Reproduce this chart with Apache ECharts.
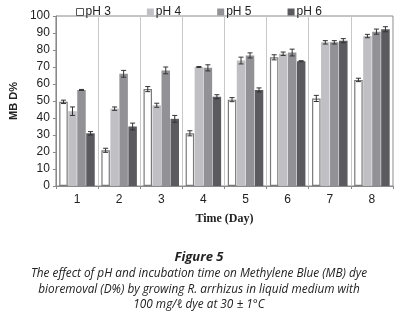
<!DOCTYPE html>
<html>
<head>
<meta charset="utf-8">
<script src="https://cdn.jsdelivr.net/npm/echarts@6/dist/echarts.min.js"></script>
<style>
  html, body { margin: 0; padding: 0; background: #fff; }
  #chart { width: 398px; height: 312px; }
</style>
</head>
<body>
<div id="chart"></div>
<script>
// categories (days)
const days = ['1', '2', '3', '4', '5', '6', '7', '8'];
const seriesNames = ['pH 3', 'pH 4', 'pH 5', 'pH 6'];

// D% values
const ph3 = [49.5, 21, 57, 31, 50.8, 75.7, 51.5, 62.4];
const ph4 = [44, 45.5, 47.5, 70, 73.8, 77.8, 84.5, 88.2];
const ph5 = [56.5, 66, 68, 69.5, 76.8, 78.5, 84.5, 90.8];
const ph6 = [31, 35, 39.5, 52.5, 56.5, 73.4, 85.5, 92.2];

// error bar half-widths
const ph3Err = [1, 1.2, 1.5, 1.5, 1.2, 1.5, 1.8, 1];
const ph4Err = [2.5, 1, 1.2, 0.3, 2, 1, 1, 1];
const ph5Err = [0.3, 2, 2, 1.8, 1.5, 2, 1, 1.5];
const ph6Err = [1, 2, 2, 1.2, 1.2, 0.3, 1.2, 1.5];

const values = [ph3, ph4, ph5, ph6];
const errors = [ph3Err, ph4Err, ph5Err, ph6Err];
const colors = ['#ffffff', '#c0c0c4', '#929296', '#5b5a5f'];

const barW = 8.5;
const gapPx = 0.5;

const captionFont = 'italic 11.8px "Open Sans"';

const myChart = echarts.init(document.getElementById('chart'));

const barSeries = seriesNames.map((name, i) => ({
    name: name,
    type: 'bar',
    data: values[i],
    barWidth: barW,
    barGap: (gapPx / barW * 100) + '%',
    itemStyle: {
        color: colors[i],
        borderColor: i === 0 ? '#7a7a7a' : colors[i],
        borderWidth: i === 0 ? 1.2 : 0
    },
    animation: false
}));

// error bars drawn with a custom series per ph
const errSeries = seriesNames.map((name, i) => ({
    type: 'custom',
    name: name + ' err',
    data: values[i].map((v, k) => [k, v, errors[i][k]]),
    z: 5,
    silent: true,
    animation: false,
    renderItem: function (params, api) {
        const k = api.value(0);
        const v = api.value(1);
        const e = api.value(2);
        const offset = (i - 1.5) * (barW + gapPx);
        const top = api.coord([k, v + e]);
        const bot = api.coord([k, v - e]);
        const x = top[0] + offset;
        const style = { stroke: '#333', lineWidth: 1 };
        return {
            type: 'group',
            children: [
                { type: 'line', shape: { x1: x, y1: top[1], x2: x, y2: bot[1] }, style: style },
                { type: 'line', shape: { x1: x - 2.5, y1: top[1], x2: x + 2.5, y2: top[1] }, style: style },
                { type: 'line', shape: { x1: x - 2.5, y1: bot[1], x2: x + 2.5, y2: bot[1] }, style: style }
            ]
        };
    }
}));

const option = {
    backgroundColor: '#fff',
    graphic: [
        { type: 'text', x: 199, y: 251, style: { text: 'Figure 5', textAlign: 'center', font: 'italic bold 13px "Open Sans"', fill: '#222' } },
        { type: 'text', x: 199, y: 268, style: { text: 'The effect of pH and incubation time on Methylene Blue (MB) dye', textAlign: 'center', font: captionFont, fill: '#222' } },
        { type: 'text', x: 199, y: 284, style: { text: 'bioremoval (D%) by growing R. arrhizus in liquid medium with', textAlign: 'center', font: captionFont, fill: '#222' } },
        { type: 'text', x: 199, y: 299, style: { text: '100 mg/ℓ dye at 30 ± 1°C', textAlign: 'center', font: captionFont, fill: '#222' } }
    ],
    legend: {
        data: seriesNames.map((n, i) => ({
            name: n,
            itemStyle: { color: colors[i], borderColor: i === 0 ? '#555' : colors[i], borderWidth: i === 0 ? 1 : 0 }
        })),
        left: 71,
        top: 1,
        itemWidth: 7,
        itemHeight: 7,
        itemGap: 36,
        icon: 'rect',
        textStyle: { fontFamily: 'Liberation Sans', fontSize: 12, color: '#222', padding: [0, 0, 0, -3] }
    },
    grid: { left: 40, right: 5, top: 16, bottom: 126, show: true, borderColor: '#8a8a8a', borderWidth: 1 },
    xAxis: {
        type: 'category',
        data: days,
        name: 'Time (Day)',
        nameLocation: 'middle',
        nameGap: 27,
        nameTextStyle: { fontFamily: 'Liberation Serif', fontWeight: 'bold', fontSize: 12, color: '#222' },
        axisLine: { lineStyle: { color: '#8a8a8a' } },
        axisTick: { show: true, length: 3, lineStyle: { color: '#8a8a8a' } },
        axisLabel: { fontFamily: 'Liberation Sans', fontSize: 12, color: '#222', margin: 8 },
        splitLine: { show: true, lineStyle: { color: '#c8c8c8', width: 1 } }
    },
    yAxis: {
        type: 'value',
        min: 0,
        max: 100,
        interval: 10,
        name: 'MB D%',
        nameLocation: 'middle',
        nameGap: 27,
        nameTextStyle: { fontFamily: 'Liberation Sans', fontWeight: 'bold', fontSize: 11, color: '#222' },
        axisLine: { show: true, lineStyle: { color: '#8a8a8a' } },
        axisTick: { show: true, length: 3, lineStyle: { color: '#8a8a8a' } },
        axisLabel: { fontFamily: 'Liberation Sans', fontSize: 12, color: '#222', margin: 6 },
        splitLine: { show: false }
    },
    series: barSeries.concat(errSeries)
};

myChart.setOption(option);
</script>
</body>
</html>
